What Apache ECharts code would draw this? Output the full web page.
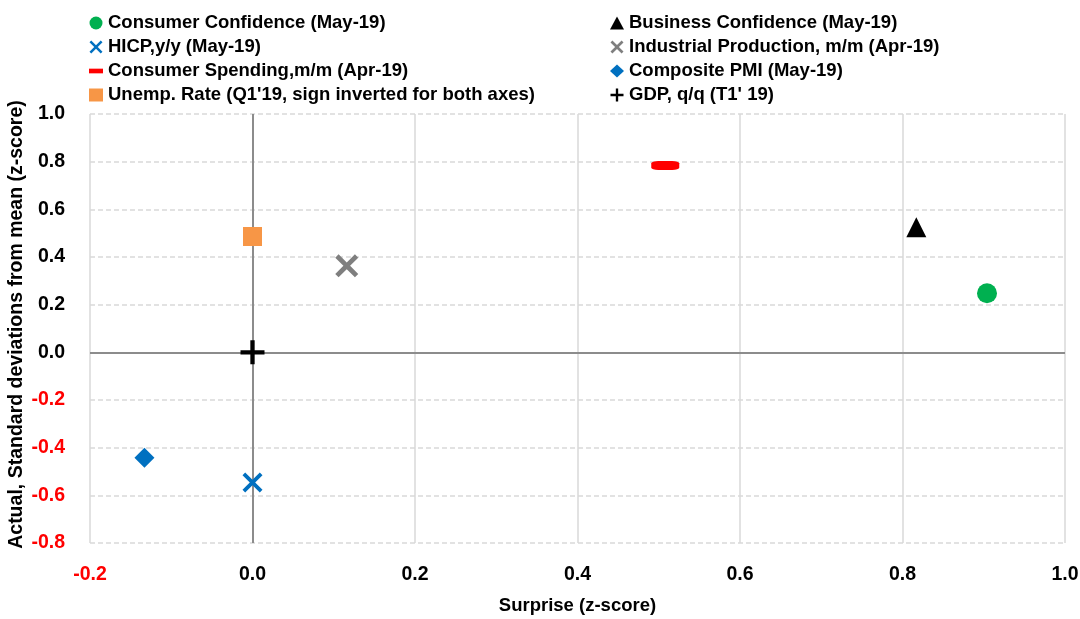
<!DOCTYPE html>
<html lang="en">
<head>
    <meta charset="UTF-8">
    <title>Surprise vs actual</title>
    <style>
        html, body { margin: 0; padding: 0; background: #fff; }
    </style>
</head>
<body>
<script src="https://cdn.jsdelivr.net/npm/echarts@6/dist/echarts.min.js"></script>

<div id="main" style="width: 1080px;height:619px;"></div>
<script type="text/javascript">

// data: [surprise, actual]
var consumerConfidence = [[0.904, 0.248]];
var businessConfidence = [[0.817, 0.525]];
var hicp = [[0.0, -0.546]];
var industrialProduction = [[0.116, 0.363]];
var consumerSpending = [[0.508, 0.784]];
var compositePmi = [[-0.133, -0.442]];
var unempRate = [[0.0, 0.486]];
var gdp = [[0.0, 0.0]];

var xTicks = [-0.2, 1.0, 0.2];   // min, max, step
var yTicks = [-0.8, 1.0, 0.2];

var font = '"Liberation Sans", Arial, sans-serif';

function xPath(a) {
    var b = 10 - a;
    return 'path://M0,' + a + 'L' + a + ',0L5,' + (5 - a) + 'L' + b + ',0L10,' + a + 'L' + (5 + a) + ',5L10,' + b +
        'L' + b + ',10L5,' + (5 + a) + 'L' + a + ',10L0,' + b + 'L' + (5 - a) + ',5Z';
}
var plusPath = 'path://M4.1,0H5.9V4.1H10V5.9H5.9V10H4.1V5.9H0V4.1H4.1Z';
var dashIcon = 'path://M0,0H30V10H0Z';

function tickColor(v) {
    return parseFloat(v) < 0 ? '#ff0000' : '#000000';
}

var myChart = echarts.init(document.getElementById('main'));

var legendText = {fontFamily: font, fontWeight: 'bold', fontSize: 18.5, color: '#000', lineHeight: 20};

myChart.setOption({
    animation: false,
    grid: {left: 90, right: 15, top: 114, bottom: 76, outerBoundsMode: 'none'},
    legend: [{
        orient: 'vertical', left: 84, top: 8, itemWidth: 14, itemHeight: 13, itemGap: 4,
        textStyle: legendText,
        data: [
            'Consumer Confidence (May-19)',
            'HICP,y/y (May-19)',
            {name: 'Consumer Spending,m/m (Apr-19)', icon: dashIcon},
            {name: "Unemp. Rate (Q1'19, sign inverted for both axes)", icon: 'rect'}
        ]
    }, {
        orient: 'vertical', left: 605, top: 8, itemWidth: 14, itemHeight: 13, itemGap: 4,
        textStyle: legendText,
        data: [
            'Business Confidence (May-19)',
            'Industrial Production, m/m (Apr-19)',
            'Composite PMI (May-19)',
            "GDP, q/q (T1' 19)"
        ]
    }],
    xAxis: {
        type: 'value', min: xTicks[0], max: xTicks[1], interval: xTicks[2],
        name: 'Surprise (z-score)', nameLocation: 'middle', nameGap: 53, nameMoveOverlap: false,
        nameTextStyle: {fontFamily: font, fontWeight: 'bold', fontSize: 18.5, color: '#000'},
        axisLine: {show: false}, axisTick: {show: false},
        axisLabel: {
            margin: 22, fontFamily: font, fontWeight: 'bold', fontSize: 19.5,
            formatter: function (v) { return v.toFixed(1); },
            color: function (v) { return tickColor(v); }
        },
        splitLine: {show: true, lineStyle: {color: '#d9d9d9', width: 1.5, type: 'solid'}}
    },
    yAxis: {
        type: 'value', min: yTicks[0], max: yTicks[1], interval: yTicks[2],
        name: 'Actual, Standard deviations from mean (z-score)', nameLocation: 'middle', nameGap: 63,
        nameMoveOverlap: false,
        nameTextStyle: {fontFamily: font, fontWeight: 'bold', fontSize: 19.5, color: '#000', padding: [0, 0, 0, 8]},
        axisLine: {show: false}, axisTick: {show: false},
        axisLabel: {
            margin: 25, fontFamily: font, fontWeight: 'bold', fontSize: 19.5,
            formatter: function (v) { return v.toFixed(1); },
            color: function (v) { return tickColor(v); }
        },
        splitLine: {show: true, lineStyle: {color: '#d9d9d9', width: 1.5, type: [5, 3]}}
    },
    series: [
        {
            name: 'zero', type: 'scatter', data: [], z: 1,
            markLine: {
                silent: true, symbol: 'none', label: {show: false}, z: 1,
                lineStyle: {color: '#8c8c8c', width: 2, type: 'solid'},
                data: [{xAxis: 0}, {yAxis: 0}]
            }
        },
        {name: 'Consumer Confidence (May-19)', type: 'scatter', z: 10, data: consumerConfidence,
            symbol: 'circle', symbolSize: 20, itemStyle: {color: '#00b050', opacity: 1}},
        {name: 'HICP,y/y (May-19)', type: 'scatter', z: 10, data: hicp,
            symbol: xPath(1.35), symbolSize: 20, itemStyle: {color: '#0070c0', opacity: 1}},
        {name: 'Consumer Spending,m/m (Apr-19)', type: 'scatter', z: 10, data: consumerSpending,
            symbol: 'roundRect', symbolSize: [28, 9], itemStyle: {color: '#ff0000', opacity: 1}},
        {name: "Unemp. Rate (Q1'19, sign inverted for both axes)", type: 'scatter', z: 10, data: unempRate,
            symbol: 'rect', symbolSize: 19, itemStyle: {color: '#f79646', opacity: 1}},
        {name: 'Business Confidence (May-19)', type: 'scatter', z: 10, data: businessConfidence,
            symbol: 'triangle', symbolSize: 20, itemStyle: {color: '#000000', opacity: 1}},
        {name: 'Industrial Production, m/m (Apr-19)', type: 'scatter', z: 10, data: industrialProduction,
            symbol: xPath(1.45), symbolSize: 23, itemStyle: {color: '#7f7f7f', opacity: 1}},
        {name: 'Composite PMI (May-19)', type: 'scatter', z: 10, data: compositePmi,
            symbol: 'diamond', symbolSize: 20, itemStyle: {color: '#0070c0', opacity: 1}},
        {name: "GDP, q/q (T1' 19)", type: 'scatter', z: 10, data: gdp,
            symbol: plusPath, symbolSize: 24, itemStyle: {color: '#000000', opacity: 1}}
    ]
});

</script>
</body>
</html>
